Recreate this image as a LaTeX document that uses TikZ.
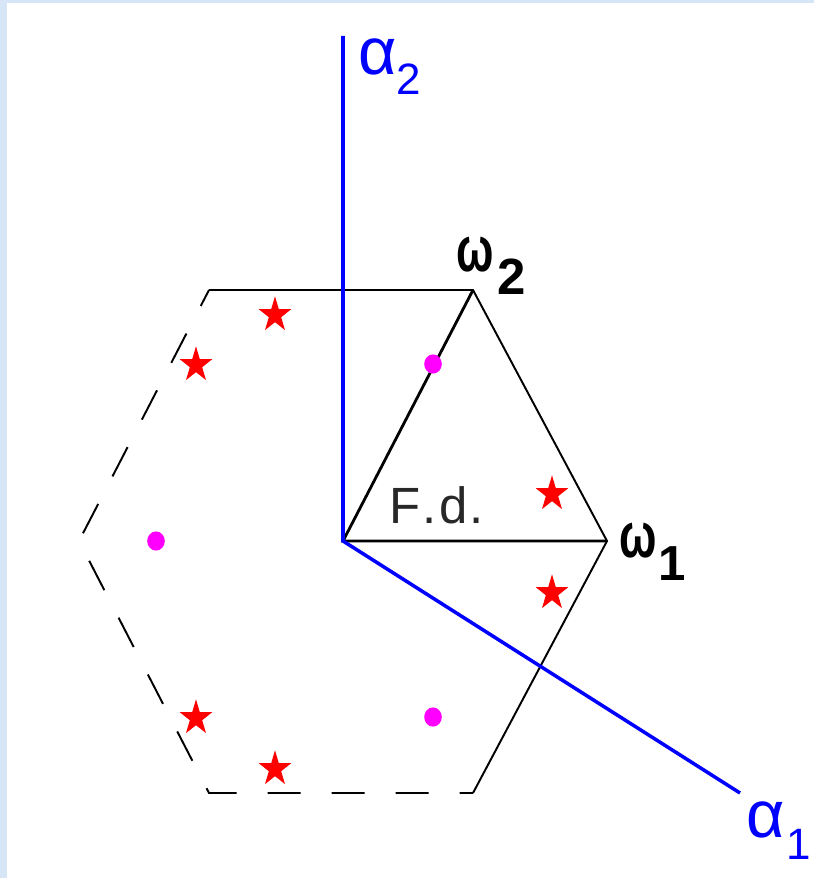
\documentclass[tikz,border=0pt]{standalone}
\usepackage{fontspec}
\usepackage{graphicx}
\setmainfont{Liberation Sans}
\usetikzlibrary{calc}

\definecolor{paleblue}{RGB}{214,230,246}
\definecolor{fdgray}{RGB}{40,40,40}
\definecolor{dotmagenta}{RGB}{255,0,255}

\tikzset{
  lbl/.style={anchor=base west, inner sep=0pt, font=\fontsize{28}{28}\selectfont},
  axisline/.style={blue, line width=2pt},
  hexline/.style={line width=1.1pt},
  hexdash/.style={line width=1.1pt, dash pattern=on 0.66cm off 0.62cm, dash phase=0.3cm},
  redstar/.pic={\fill[red, yscale=-1.1] (90:17) \foreach \k in {1,...,9}{ -- ({90+36*\k}:{mod(\k,2)==1 ? 6.5 : 17}) } -- cycle;},
  magdot/.pic={\fill[dotmagenta] (0,0) ellipse [x radius=8.8, y radius=9.6];}
}

\begin{document}
\begin{tikzpicture}[x=0.02cm, y=-0.02cm, line join=miter]
    \useasboundingbox (0,0) rectangle (814,878);

    % Slide background
    \fill[paleblue] (0,0) rectangle (814,878);
    \fill[white] (7,3) rectangle (814,878);

    % Origin, weights, hexagon corners, root ends
    \coordinate (O)  at (343,541);
    \coordinate (w1) at (607,541);
    \coordinate (w2) at (473,290);
    \coordinate (h3) at (209,290);
    \coordinate (h4) at (79,541);
    \coordinate (h5) at (209,793);
    \coordinate (h6) at (473,793);
    \coordinate (a1) at (740,793);
    \coordinate (a2) at (343,36);

    % Hexagon (solid part)
    \draw[hexline] (h3) -- (w2) -- (w1) -- (h6);
    % Hexagon (dashed part)
    \draw[hexdash] (h3) -- (h4) -- (h5) -- (h6);

    % Fundamental domain
    \draw[line width=1.6pt] (w2) -- (O) -- (w1);

    % Simple roots
    \draw[axisline] (a2) -- (O) -- (a1);

    % Weights of the representation
    \foreach \sx/\sy [count=\i] in {275/315, 196/365, 552/494, 552/593, 196/718, 275/769}
        \pic (star\i) at (\sx,\sy) {redstar};
    \foreach \dx/\dy [count=\i] in {433/364, 156/541, 433/717}
        \pic (dot\i) at (\dx,\dy) {magdot};

    % Labels
    \node[lbl, text=blue] (a2lbl) at (358,75)
        {\scalebox{1.35}{α}\raisebox{-0.40cm}{\fontsize{25}{25}\selectfont 2}};
    \node[lbl, text=blue] (a1lbl) at (746,837)
        {\scalebox{1.35}{α}\kern1pt\raisebox{-0.44cm}{\fontsize{25}{25}\selectfont 1}};
    \node[lbl, font=\fontsize{28}{28}\selectfont\bfseries] (w2lbl) at (456,272)
        {\scalebox{0.9}[1.3]{ω}\kern2pt\raisebox{-0.46cm}{\fontsize{29}{29}\selectfont 2}};
    \node[lbl, font=\fontsize{28}{28}\selectfont\bfseries] (w1lbl) at (619,557)
        {\scalebox{0.9}[1.3]{ω}\kern1pt\raisebox{-0.46cm}{\fontsize{28}{28}\selectfont 1}};
    \node[lbl, text=fdgray, font=\fontsize{29}{29}\selectfont] (fd) at (389,523)
        {F\kern1pt.\kern2pt d\kern1pt.};
\end{tikzpicture}
\end{document}
